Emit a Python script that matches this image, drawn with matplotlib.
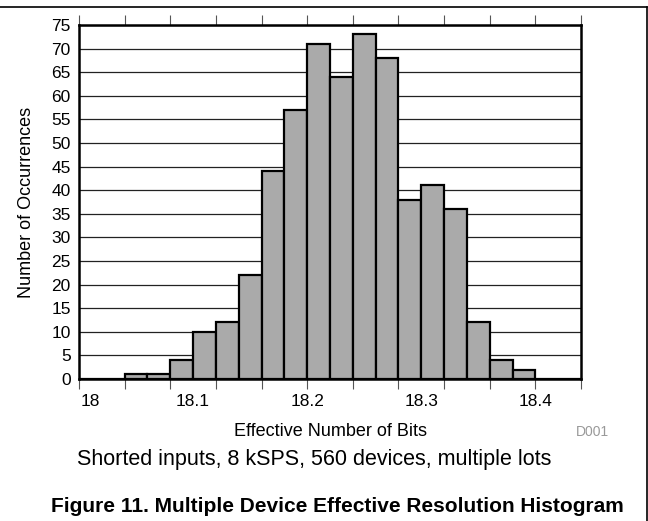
import numpy as np
import matplotlib
matplotlib.use("Agg")
from matplotlib import pyplot as plt
from matplotlib.transforms import blended_transform_factory, ScaledTranslation

plt.rcParams['font.family'] = ['Liberation Sans', 'DejaVu Sans']

# histogram of ENOB, 0.02 bit bins from 18.00 to 18.44
bin_width = 0.02
counts = [0, 0, 1, 1, 4, 10, 12, 22, 44, 57, 71, 64, 73, 68, 38, 41, 36, 12, 4, 2, 0, 0]
bin_left = 18.0 + bin_width * np.arange(len(counts))
x_labels = ["18", "18.1", "18.2", "18.3", "18.4"]
x_label_pos = [18.0, 18.1, 18.2, 18.3, 18.4]
y_ticks = list(range(0, 80, 5))

fig = plt.figure(figsize=(6.48, 5.21), dpi=100)
ax = fig.add_axes([79 / 648, 1 - 379 / 521, 502 / 648, 354 / 521])

ax.bar(bin_left, counts, width=bin_width, align='edge', color='#aaaaaa',
       edgecolor='black', linewidth=1.6, zorder=3)

ax.set_xlim(18.0, 18.44)
ax.set_ylim(0, 75)
ax.set_yticks(y_ticks)
ax.set_yticklabels([str(v) for v in y_ticks], fontsize=12.5)
ax.tick_params(axis='y', length=0, pad=6)
ax.yaxis.grid(True, color='#222222', linewidth=0.9, zorder=0)
ax.set_axisbelow(True)

ax.set_xticks(np.arange(18.0, 18.441, 0.04))
ax.set_xticklabels([])
ax.tick_params(axis='x', direction='out', length=7, width=0.8, color='#555555',
               top=True, bottom=True)

for s in ax.spines.values():
    s.set_linewidth(1.8)
    s.set_zorder(4)

trans = blended_transform_factory(ax.transData, ax.transAxes)
for i, (pos, lab) in enumerate(zip(x_label_pos, x_labels)):
    t = trans
    if i == 0:
        t = trans + ScaledTranslation(0.11, 0, fig.dpi_scale_trans)
    ax.text(pos, -22 / 354, lab, transform=t, ha='center', va='center', fontsize=12.5)

fig.text(27 / 648, 1 - 202 / 521, "Number of Occurrences", rotation=90,
         ha='center', va='center', fontsize=13)
fig.text(330 / 648, 1 - 431 / 521, "Effective Number of Bits",
         ha='center', va='center', fontsize=13)
fig.text(592 / 648, 1 - 432 / 521, "D001", ha='center', va='center',
         fontsize=10, color='#999999')
fig.text(314 / 648, 1 - 459 / 521, "Shorted inputs, 8 kSPS, 560 devices, multiple lots",
         ha='center', va='center', fontsize=15.5)
fig.text(337 / 648, 1 - 507 / 521, "Figure 11. Multiple Device Effective Resolution Histogram",
         ha='center', va='center', fontsize=15, fontweight='bold')

# page frame: line across the top and down the right side
fig.add_artist(plt.Line2D([0, 646.5 / 648], [1 - 7 / 521, 1 - 7 / 521],
                          transform=fig.transFigure, color='black', linewidth=1.2))
fig.add_artist(plt.Line2D([646.5 / 648, 646.5 / 648], [0, 1 - 7 / 521],
                          transform=fig.transFigure, color='black', linewidth=1.2))

fig.savefig("out.png", dpi=100)
